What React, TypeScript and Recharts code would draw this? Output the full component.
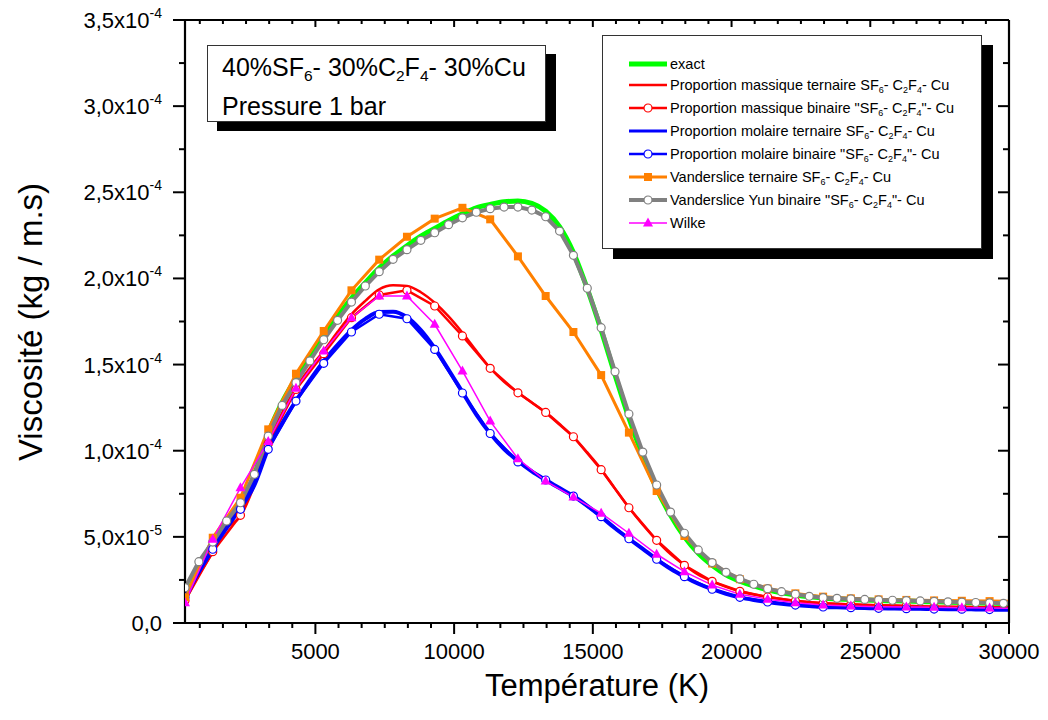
import React from "react";
import { LineChart, Line, XAxis, YAxis } from "recharts";

const FONT = '"Liberation Sans", Arial, Helvetica, sans-serif';

// temperature grids (K): fine = every 500 K, coarse = every 1000 K
const tempsFine = [
  300, 800, 1300, 1800, 2300, 2800, 3300, 3800, 4300, 4800, 5300, 5800, 6300, 6800, 7300, 7800,
  8300, 8800, 9300, 9800, 10300, 10800, 11300, 11800, 12300, 12800, 13300, 13800, 14300, 14800,
  15300, 15800, 16300, 16800, 17300, 17800, 18300, 18800, 19300, 19800, 20300, 20800, 21300,
  21800, 22300, 22800, 23300, 23800, 24300, 24800, 25300, 25800, 26300, 26800, 27300, 27800,
  28300, 28800, 29300, 29800, 30000,
];
const tempsCoarse = [
  300, 1300, 2300, 3300, 4300, 5300, 6300, 7300, 8300, 9300, 10300, 11300, 12300, 13300, 14300,
  15300, 16300, 17300, 18300, 19300, 20300, 21300, 22300, 23300, 24300, 25300, 26300, 27300,
  28300, 29300, 30000,
];

// viscosity in units of 1e-4 kg/(m.s)
const exactVals = [
  0.14, 0.31, 0.44, 0.57, 0.68, 0.86, 1.1, 1.28, 1.42, 1.545, 1.666, 1.78, 1.885, 1.975, 2.06, 2.13,
  2.19, 2.245, 2.29, 2.335, 2.375, 2.41, 2.43, 2.445, 2.449, 2.435, 2.39, 2.3, 2.15, 1.94, 1.7, 1.44,
  1.19, 0.97, 0.78, 0.625, 0.5, 0.405, 0.335, 0.28, 0.243, 0.215, 0.192, 0.175, 0.162, 0.152, 0.145,
  0.14, 0.136, 0.133, 0.131, 0.129, 0.127, 0.125, 0.123, 0.121, 0.119, 0.117, 0.115, 0.113, 0.112,
];
const massTernVals = [
  0.13, 0.28, 0.41, 0.55, 0.62, 0.8, 1.05, 1.22, 1.366, 1.48, 1.579, 1.69, 1.792, 1.87, 1.937, 1.96,
  1.956, 1.92, 1.859, 1.78, 1.685, 1.58, 1.48, 1.4, 1.338, 1.28, 1.223, 1.155, 1.081, 0.99, 0.893,
  0.78, 0.67, 0.57, 0.48, 0.4, 0.336, 0.28, 0.242, 0.21, 0.184, 0.165, 0.151, 0.139, 0.129, 0.121,
  0.115, 0.111, 0.108, 0.105, 0.103, 0.101, 0.099, 0.097, 0.095, 0.094, 0.093, 0.092, 0.091, 0.09,
  0.09,
];
const massBinVals = [
  0.13, 0.414, 0.625, 1.04, 1.356, 1.563, 1.772, 1.904, 1.931, 1.84, 1.666, 1.478, 1.336, 1.222,
  1.081, 0.89, 0.669, 0.48, 0.335, 0.242, 0.184, 0.151, 0.128, 0.114, 0.108, 0.103, 0.099, 0.095,
  0.093, 0.091, 0.09,
];
const molTernVals = [
  0.14, 0.3, 0.43, 0.58, 0.67, 0.8, 1.01, 1.16, 1.29, 1.41, 1.52, 1.615, 1.7, 1.765, 1.805, 1.807,
  1.775, 1.7, 1.595, 1.47, 1.34, 1.21, 1.1, 1.01, 0.94, 0.88, 0.83, 0.783, 0.737, 0.68, 0.617, 0.55,
  0.489, 0.43, 0.37, 0.315, 0.269, 0.228, 0.196, 0.17, 0.149, 0.134, 0.122, 0.112, 0.104, 0.098,
  0.093, 0.091, 0.089, 0.087, 0.085, 0.084, 0.083, 0.082, 0.081, 0.08, 0.08, 0.079, 0.078, 0.077,
  0.077,
];
const molBinVals = [
  0.15, 0.428, 0.66, 1.008, 1.288, 1.507, 1.689, 1.792, 1.766, 1.588, 1.335, 1.1, 0.935, 0.83,
  0.737, 0.617, 0.489, 0.37, 0.269, 0.196, 0.149, 0.122, 0.104, 0.093, 0.089, 0.085, 0.083, 0.081,
  0.08, 0.078, 0.077,
];
const vdsTernVals = [
  0.15, 0.495, 0.727, 1.124, 1.447, 1.695, 1.931, 2.109, 2.242, 2.347, 2.41, 2.343, 2.128, 1.898,
  1.689, 1.439, 1.105, 0.766, 0.505, 0.345, 0.254, 0.2, 0.172, 0.153, 0.143, 0.137, 0.134, 0.131,
  0.129, 0.127, 0.126,
];
const vdsYunVals = [
  0.205, 0.356, 0.47, 0.592, 0.698, 0.863, 1.085, 1.263, 1.395, 1.521, 1.644, 1.757, 1.863, 1.956,
  2.039, 2.111, 2.167, 2.221, 2.265, 2.312, 2.352, 2.384, 2.405, 2.414, 2.414, 2.397, 2.358, 2.275,
  2.134, 1.943, 1.714, 1.459, 1.213, 0.992, 0.801, 0.644, 0.521, 0.424, 0.351, 0.294, 0.256, 0.225,
  0.199, 0.182, 0.167, 0.155, 0.147, 0.143, 0.14, 0.137, 0.134, 0.132, 0.13, 0.128, 0.126, 0.123,
  0.121, 0.119, 0.117, 0.114, 0.113,
];
const wilkeVals = [
  0.118, 0.486, 0.785, 1.054, 1.362, 1.579, 1.772, 1.898, 1.898, 1.734, 1.463, 1.172, 0.953, 0.824,
  0.731, 0.637, 0.521, 0.399, 0.298, 0.22, 0.167, 0.138, 0.118, 0.105, 0.099, 0.095, 0.093, 0.091,
  0.089, 0.087, 0.086,
];

const xMajorTicks = [5000, 10000, 15000, 20000, 25000, 30000];
const xMajorLabels = ["5000", "10000", "15000", "20000", "25000", "30000"];
const yMajorTicks = [0, 0.5, 1, 1.5, 2, 2.5, 3, 3.5];
const yTickMantissa = ["0,0", "5,0x10", "1,0x10", "1,5x10", "2,0x10", "2,5x10", "3,0x10", "3,5x10"];
const yTickExp = ["", "-5", "-4", "-4", "-4", "-4", "-4", "-4"];

// 5 minor ticks between major x ticks, 1 between major y ticks
const xTicks = Array.from({ length: 36 }, (_, i) => ((i + 1) * 5000) / 6);
const yTicks = Array.from({ length: 15 }, (_, i) => i * 0.25);

const mk = (ts: number[], vs: number[]) => ts.map((t, i) => ({ t, v: vs[i] }));

type MarkerKind = "circle" | "square" | "triangle" | "none";

function Marker({ kind, color, cx, cy }: { kind: MarkerKind; color: string; cx: number; cy: number }) {
  if (kind === "circle")
    return <circle cx={cx} cy={cy} r={4} fill="#fff" stroke={color} strokeWidth={1.2} />;
  if (kind === "square") return <rect x={cx - 4} y={cy - 4} width={8} height={8} fill={color} />;
  if (kind === "triangle")
    return (
      <polygon
        points={`${cx},${cy - 5.5} ${cx - 5},${cy + 3.5} ${cx + 5},${cy + 3.5}`}
        fill={color}
      />
    );
  return null;
}

const makeDot = (kind: MarkerKind, color: string) => (props: any) => {
  const { cx, cy, index, payload } = props;
  if (cx == null || cy == null || payload.t >= 30000) return <g key={`e-${index}`} />;
  return (
    <g key={`m-${index}`}>
      <Marker kind={kind} color={color} cx={cx} cy={cy} />
    </g>
  );
};

const majorIdx = (list: number[], v: number) => list.findIndex((m) => Math.abs(m - v) < 1e-6);

function XTick(props: any) {
  const { x, y, payload, side } = props;
  const idx = majorIdx(xMajorTicks, payload.value);
  const major = idx >= 0;
  if (side === "bottom") {
    return (
      <g>
        <line x1={x} y1={y} x2={x} y2={y + (major ? 11 : 5)} stroke="#000" strokeWidth={2} />
        {major && (
          <text x={x} y={y + 36} textAnchor="middle" fontSize={22} fontFamily={FONT} fill="#000">
            {xMajorLabels[idx]}
          </text>
        )}
      </g>
    );
  }
  return <line x1={x} y1={y} x2={x} y2={y + (major ? 7 : 4)} stroke="#000" strokeWidth={2} />;
}

function YTick(props: any) {
  const { x, y, payload, side } = props;
  const idx = majorIdx(yMajorTicks, payload.value);
  const major = idx >= 0;
  if (side === "left") {
    return (
      <g>
        <line x1={x - (major ? 12 : 6)} y1={y} x2={x} y2={y} stroke="#000" strokeWidth={2} />
        {major && (
          <text x={x - 23} y={y + 8} textAnchor="end" fontSize={22} fontFamily={FONT} fill="#000">
            <tspan>{yTickMantissa[idx]}</tspan>
            {yTickExp[idx] && (
              <tspan dy={-10} fontSize={14}>
                {yTickExp[idx]}
              </tspan>
            )}
          </text>
        )}
      </g>
    );
  }
  return <line x1={x - (major ? 11 : 6)} y1={y} x2={x} y2={y} stroke="#000" strokeWidth={2} />;
}

const Sub = ({ children }: { children: React.ReactNode }) => (
  <span style={{ fontSize: "0.62em", position: "relative", top: "0.35em" }}>{children}</span>
);

const SF6C2F4 = (quoted: boolean) => (
  <>
    {quoted ? '"' : ""}SF<Sub>6</Sub>- C<Sub>2</Sub>F<Sub>4</Sub>
    {quoted ? '"' : ""}- Cu
  </>
);

const legendItems: { label: React.ReactNode; color: string; width: number; kind: MarkerKind }[] = [
  { label: "exact", color: "#00ff00", width: 5, kind: "none" },
  { label: <>Proportion massique ternaire {SF6C2F4(false)}</>, color: "#ff0000", width: 2.5, kind: "none" },
  { label: <>Proportion massique binaire {SF6C2F4(true)}</>, color: "#ff0000", width: 2.5, kind: "circle" },
  { label: <>Proportion molaire ternaire {SF6C2F4(false)}</>, color: "#0000ff", width: 3, kind: "none" },
  { label: <>Proportion molaire binaire {SF6C2F4(true)}</>, color: "#0000ff", width: 2.5, kind: "circle" },
  { label: <>Vanderslice ternaire {SF6C2F4(false)}</>, color: "#ff8000", width: 3, kind: "square" },
  { label: <>Vanderslice Yun binaire {SF6C2F4(true)}</>, color: "#808080", width: 4, kind: "circle" },
  { label: "Wilke", color: "#ff00ff", width: 1.5, kind: "triangle" },
];

function LegendBox() {
  return (
    <div
      style={{
        position: "absolute",
        left: 602,
        top: 35,
        width: 380,
        height: 214,
        background: "#fff",
        border: "1px solid #333",
        boxShadow: "11px 10px 0 #000",
        paddingTop: 18,
        boxSizing: "border-box",
        fontFamily: FONT,
        fontSize: 14.5,
        color: "#000",
      }}
    >
      {legendItems.map((it, i) => (
        <div
          key={i}
          style={{ display: "flex", alignItems: "center", height: i === 0 ? 19 : 23, paddingLeft: 26, whiteSpace: "nowrap" }}
        >
          <svg width={38} height={14} style={{ marginRight: 3, flex: "none" }}>
            <line x1={0} y1={7} x2={38} y2={7} stroke={it.color} strokeWidth={it.width} />
            <Marker kind={it.kind} color={it.color} cx={19} cy={7} />
          </svg>
          <span>{it.label}</span>
        </div>
      ))}
    </div>
  );
}

function InfoBox() {
  return (
    <div
      style={{
        position: "absolute",
        left: 207,
        top: 45,
        width: 339,
        height: 77,
        background: "#fff",
        border: "1px solid #333",
        boxShadow: "10px 9px 0 #000",
        boxSizing: "border-box",
        fontFamily: FONT,
        fontSize: 25,
        color: "#000",
        paddingLeft: 14,
        paddingTop: 3,
        lineHeight: "36px",
        whiteSpace: "nowrap",
      }}
    >
      <div>
        40%SF<Sub>6</Sub>- 30%C<Sub>2</Sub>F<Sub>4</Sub>- 30%Cu
      </div>
      <div style={{ marginTop: -1 }}>Pressure 1 bar</div>
    </div>
  );
}

export default function App() {
  const lineCommon = { isAnimationActive: false, activeDot: false as const, dataKey: "v" };
  return (
    <div style={{ position: "absolute", left: 0, top: 0, width: 1048, height: 720, background: "#fff" }}>
      <LineChart width={1048} height={720} margin={{ top: 10, right: 29, bottom: 37, left: 0 }}>
        <XAxis
          dataKey="t"
          type="number"
          domain={[300, 30000]}
          allowDataOverflow
          ticks={xTicks}
          interval={0}
          height={60}
          tickSize={0}
          tickMargin={0}
          tickLine={false}
          axisLine={{ stroke: "#000", strokeWidth: 2.2 }}
          tick={<XTick side="bottom" />}
        />
        <XAxis
          xAxisId="top"
          orientation="top"
          dataKey="t"
          type="number"
          domain={[300, 30000]}
          allowDataOverflow
          ticks={xTicks}
          interval={0}
          height={10}
          tickSize={0}
          tickMargin={0}
          tickLine={false}
          axisLine={{ stroke: "#000", strokeWidth: 2.2 }}
          tick={<XTick side="top" />}
        />
        <YAxis
          type="number"
          domain={[0, 3.5]}
          allowDataOverflow
          ticks={yTicks}
          interval={0}
          width={185}
          tickSize={0}
          tickMargin={0}
          tickLine={false}
          axisLine={{ stroke: "#000", strokeWidth: 2.2 }}
          tick={<YTick side="left" />}
        />
        <YAxis
          yAxisId="right"
          orientation="right"
          type="number"
          domain={[0, 3.5]}
          allowDataOverflow
          ticks={yTicks}
          interval={0}
          width={10}
          tickSize={0}
          tickMargin={0}
          tickLine={false}
          axisLine={{ stroke: "#000", strokeWidth: 2.2 }}
          tick={<YTick side="right" />}
        />
        {/* carries the mirrored top/right axes */}
        <Line {...lineCommon} xAxisId="top" yAxisId="right" data={mk(tempsFine, exactVals)} stroke="none" dot={false} legendType="none" />

        <Line {...lineCommon} name="exact" type="monotone" data={mk(tempsFine, exactVals)} stroke="#00ff00" strokeWidth={5} dot={false} />
        <Line {...lineCommon} name="massTern" type="monotone" data={mk(tempsFine, massTernVals)} stroke="#ff0000" strokeWidth={2.5} dot={false} />
        <Line {...lineCommon} name="massBin" type="linear" data={mk(tempsCoarse, massBinVals)} stroke="#ff0000" strokeWidth={2.5} dot={makeDot("circle", "#ff0000")} />
        <Line {...lineCommon} name="molTern" type="monotone" data={mk(tempsFine, molTernVals)} stroke="#0000ff" strokeWidth={4} dot={false} />
        <Line {...lineCommon} name="molBin" type="linear" data={mk(tempsCoarse, molBinVals)} stroke="#0000ff" strokeWidth={2.5} dot={makeDot("circle", "#0000ff")} />
        <Line {...lineCommon} name="vdsTern" type="linear" data={mk(tempsCoarse, vdsTernVals)} stroke="#ff8000" strokeWidth={3} dot={makeDot("square", "#ff8000")} />
        <Line {...lineCommon} name="vdsYun" type="linear" data={mk(tempsFine, vdsYunVals)} stroke="#808080" strokeWidth={4} dot={makeDot("circle", "#808080")} />
        <Line {...lineCommon} name="wilke" type="linear" data={mk(tempsCoarse, wilkeVals)} stroke="#ff00ff" strokeWidth={1.5} dot={makeDot("triangle", "#ff00ff")} />
      </LineChart>

      <InfoBox />
      <LegendBox />

      <div
        style={{
          position: "absolute",
          left: 397,
          top: 668,
          width: 400,
          textAlign: "center",
          fontFamily: FONT,
          fontSize: 31,
          color: "#000",
        }}
      >
        Température (K)
      </div>
      <div
        style={{
          position: "absolute",
          left: 31,
          top: 322,
          transform: "translate(-50%, -50%) rotate(-90deg)",
          fontFamily: FONT,
          fontSize: 33,
          color: "#000",
          whiteSpace: "nowrap",
        }}
      >
        Viscosité (kg / m.s)
      </div>
    </div>
  );
}
